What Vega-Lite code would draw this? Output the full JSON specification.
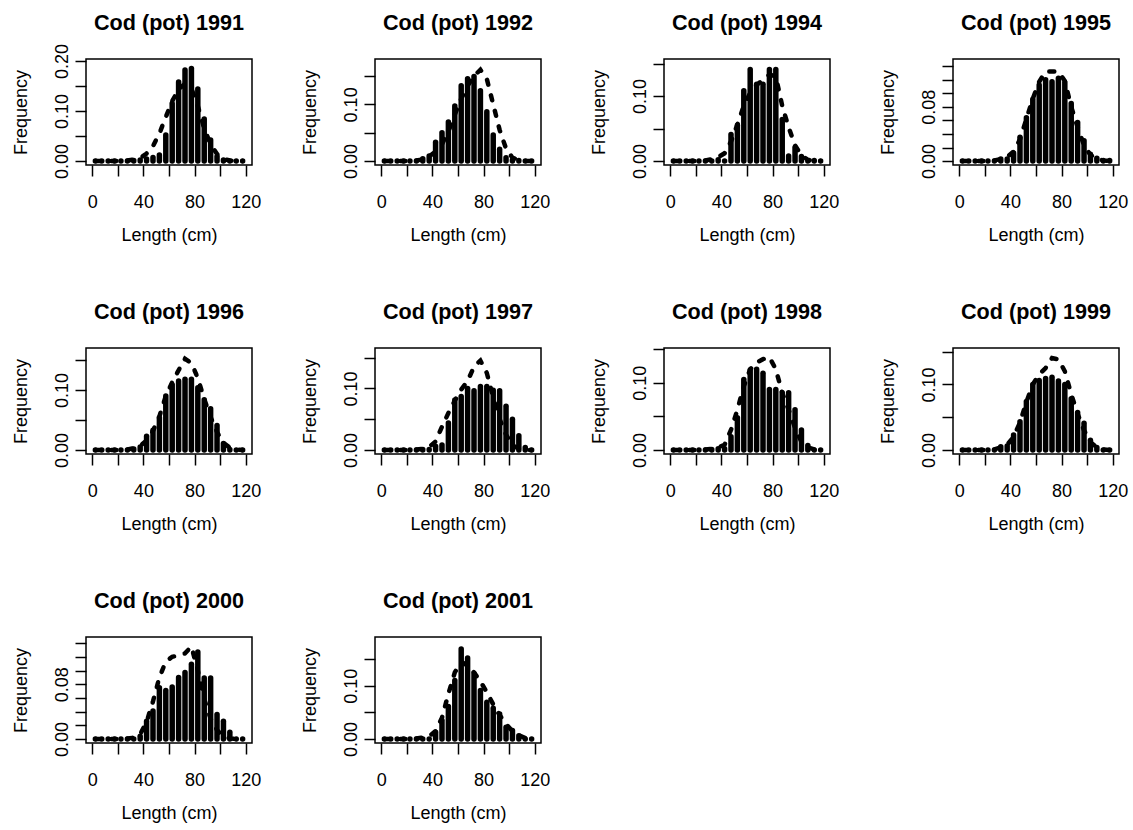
{
"$schema": "https://vega.github.io/schema/vega-lite/v6.json",
"background": "white",
"padding": {"left": 11, "top": 12, "right": 5, "bottom": 5},
"columns": 4,
"spacing": {"row": 183, "column": 123},
"bounds": "flush",
"datasets": {"cod": [
{"year":1991,"len":2.5,"obs":0,"fit":0},{"year":1991,"len":7.5,"obs":0,"fit":0},{"year":1991,"len":12.5,"obs":0,"fit":0},{"year":1991,"len":17.5,"obs":0,"fit":0},{"year":1991,"len":22.5,"obs":0,"fit":0.001},{"year":1991,"len":27.5,"obs":0,"fit":0.001},{"year":1991,"len":32.5,"obs":0.001,"fit":0.003},{"year":1991,"len":37.5,"obs":0.002,"fit":0.006},{"year":1991,"len":42.5,"obs":0.004,"fit":0.015},{"year":1991,"len":47.5,"obs":0.007,"fit":0.03},{"year":1991,"len":52.5,"obs":0.012,"fit":0.055},{"year":1991,"len":57.5,"obs":0.052,"fit":0.088},{"year":1991,"len":62.5,"obs":0.115,"fit":0.12},{"year":1991,"len":67.5,"obs":0.158,"fit":0.143},{"year":1991,"len":72.5,"obs":0.182,"fit":0.155},{"year":1991,"len":77.5,"obs":0.185,"fit":0.145},{"year":1991,"len":82.5,"obs":0.144,"fit":0.11},{"year":1991,"len":87.5,"obs":0.084,"fit":0.065},{"year":1991,"len":92.5,"obs":0.042,"fit":0.033},{"year":1991,"len":97.5,"obs":0.009,"fit":0.014},{"year":1991,"len":102.5,"obs":0.002,"fit":0.004},{"year":1991,"len":107.5,"obs":0,"fit":0.001},{"year":1991,"len":112.5,"obs":0,"fit":0},{"year":1991,"len":117.5,"obs":0,"fit":0},
{"year":1992,"len":2.5,"obs":0,"fit":0},{"year":1992,"len":7.5,"obs":0,"fit":0},{"year":1992,"len":12.5,"obs":0,"fit":0},{"year":1992,"len":17.5,"obs":0,"fit":0},{"year":1992,"len":22.5,"obs":0,"fit":0},{"year":1992,"len":27.5,"obs":0,"fit":0.001},{"year":1992,"len":32.5,"obs":0.004,"fit":0.003},{"year":1992,"len":37.5,"obs":0.009,"fit":0.008},{"year":1992,"len":42.5,"obs":0.033,"fit":0.017},{"year":1992,"len":47.5,"obs":0.05,"fit":0.03},{"year":1992,"len":52.5,"obs":0.069,"fit":0.052},{"year":1992,"len":57.5,"obs":0.097,"fit":0.082},{"year":1992,"len":62.5,"obs":0.133,"fit":0.11},{"year":1992,"len":67.5,"obs":0.145,"fit":0.133},{"year":1992,"len":72.5,"obs":0.149,"fit":0.15},{"year":1992,"len":77.5,"obs":0.124,"fit":0.161},{"year":1992,"len":82.5,"obs":0.087,"fit":0.145},{"year":1992,"len":87.5,"obs":0.046,"fit":0.1},{"year":1992,"len":92.5,"obs":0.021,"fit":0.055},{"year":1992,"len":97.5,"obs":0.006,"fit":0.022},{"year":1992,"len":102.5,"obs":0.002,"fit":0.006},{"year":1992,"len":107.5,"obs":0.001,"fit":0.002},{"year":1992,"len":112.5,"obs":0,"fit":0},{"year":1992,"len":117.5,"obs":0,"fit":0},
{"year":1994,"len":2.5,"obs":0,"fit":0},{"year":1994,"len":7.5,"obs":0,"fit":0},{"year":1994,"len":12.5,"obs":0,"fit":0},{"year":1994,"len":17.5,"obs":0,"fit":0},{"year":1994,"len":22.5,"obs":0,"fit":0},{"year":1994,"len":27.5,"obs":0,"fit":0.001},{"year":1994,"len":32.5,"obs":0,"fit":0.003},{"year":1994,"len":37.5,"obs":0.002,"fit":0.006},{"year":1994,"len":42.5,"obs":0,"fit":0.012},{"year":1994,"len":47.5,"obs":0.041,"fit":0.03},{"year":1994,"len":52.5,"obs":0.055,"fit":0.056},{"year":1994,"len":57.5,"obs":0.108,"fit":0.085},{"year":1994,"len":62.5,"obs":0.141,"fit":0.105},{"year":1994,"len":67.5,"obs":0.118,"fit":0.117},{"year":1994,"len":72.5,"obs":0.118,"fit":0.125},{"year":1994,"len":77.5,"obs":0.141,"fit":0.133},{"year":1994,"len":82.5,"obs":0.141,"fit":0.13},{"year":1994,"len":87.5,"obs":0.064,"fit":0.085},{"year":1994,"len":92.5,"obs":0.008,"fit":0.052},{"year":1994,"len":97.5,"obs":0.021,"fit":0.024},{"year":1994,"len":102.5,"obs":0.007,"fit":0.009},{"year":1994,"len":107.5,"obs":0,"fit":0.002},{"year":1994,"len":112.5,"obs":0.001,"fit":0},{"year":1994,"len":117.5,"obs":0,"fit":0},
{"year":1995,"len":2.5,"obs":0,"fit":0},{"year":1995,"len":7.5,"obs":0,"fit":0},{"year":1995,"len":12.5,"obs":0,"fit":0},{"year":1995,"len":17.5,"obs":0,"fit":0},{"year":1995,"len":22.5,"obs":0,"fit":0},{"year":1995,"len":27.5,"obs":0,"fit":0.001},{"year":1995,"len":32.5,"obs":0.003,"fit":0.003},{"year":1995,"len":37.5,"obs":0.003,"fit":0.006},{"year":1995,"len":42.5,"obs":0.012,"fit":0.014},{"year":1995,"len":47.5,"obs":0.035,"fit":0.032},{"year":1995,"len":52.5,"obs":0.064,"fit":0.062},{"year":1995,"len":57.5,"obs":0.091,"fit":0.092},{"year":1995,"len":62.5,"obs":0.112,"fit":0.117},{"year":1995,"len":67.5,"obs":0.12,"fit":0.132},{"year":1995,"len":72.5,"obs":0.117,"fit":0.132},{"year":1995,"len":77.5,"obs":0.122,"fit":0.132},{"year":1995,"len":82.5,"obs":0.116,"fit":0.118},{"year":1995,"len":87.5,"obs":0.085,"fit":0.08},{"year":1995,"len":92.5,"obs":0.057,"fit":0.05},{"year":1995,"len":97.5,"obs":0.03,"fit":0.023},{"year":1995,"len":102.5,"obs":0.01,"fit":0.009},{"year":1995,"len":107.5,"obs":0.004,"fit":0.003},{"year":1995,"len":112.5,"obs":0.001,"fit":0.001},{"year":1995,"len":117.5,"obs":0.001,"fit":0},
{"year":1996,"len":2.5,"obs":0,"fit":0},{"year":1996,"len":7.5,"obs":0,"fit":0},{"year":1996,"len":12.5,"obs":0,"fit":0},{"year":1996,"len":17.5,"obs":0,"fit":0},{"year":1996,"len":22.5,"obs":0,"fit":0},{"year":1996,"len":27.5,"obs":0,"fit":0.001},{"year":1996,"len":32.5,"obs":0.002,"fit":0.003},{"year":1996,"len":37.5,"obs":0.005,"fit":0.007},{"year":1996,"len":42.5,"obs":0.023,"fit":0.016},{"year":1996,"len":47.5,"obs":0.033,"fit":0.032},{"year":1996,"len":52.5,"obs":0.054,"fit":0.056},{"year":1996,"len":57.5,"obs":0.09,"fit":0.09},{"year":1996,"len":62.5,"obs":0.109,"fit":0.113},{"year":1996,"len":67.5,"obs":0.115,"fit":0.133},{"year":1996,"len":72.5,"obs":0.118,"fit":0.152},{"year":1996,"len":77.5,"obs":0.118,"fit":0.145},{"year":1996,"len":82.5,"obs":0.104,"fit":0.12},{"year":1996,"len":87.5,"obs":0.084,"fit":0.085},{"year":1996,"len":92.5,"obs":0.069,"fit":0.055},{"year":1996,"len":97.5,"obs":0.041,"fit":0.03},{"year":1996,"len":102.5,"obs":0.011,"fit":0.012},{"year":1996,"len":107.5,"obs":0.001,"fit":0.004},{"year":1996,"len":112.5,"obs":0,"fit":0.001},{"year":1996,"len":117.5,"obs":0,"fit":0},
{"year":1997,"len":2.5,"obs":0,"fit":0},{"year":1997,"len":7.5,"obs":0,"fit":0},{"year":1997,"len":12.5,"obs":0,"fit":0},{"year":1997,"len":17.5,"obs":0,"fit":0},{"year":1997,"len":22.5,"obs":0,"fit":0},{"year":1997,"len":27.5,"obs":0,"fit":0.001},{"year":1997,"len":32.5,"obs":0.001,"fit":0.002},{"year":1997,"len":37.5,"obs":0.001,"fit":0.005},{"year":1997,"len":42.5,"obs":0.006,"fit":0.014},{"year":1997,"len":47.5,"obs":0.008,"fit":0.038},{"year":1997,"len":52.5,"obs":0.044,"fit":0.06},{"year":1997,"len":57.5,"obs":0.081,"fit":0.08},{"year":1997,"len":62.5,"obs":0.087,"fit":0.098},{"year":1997,"len":67.5,"obs":0.1,"fit":0.112},{"year":1997,"len":72.5,"obs":0.096,"fit":0.135},{"year":1997,"len":77.5,"obs":0.103,"fit":0.145},{"year":1997,"len":82.5,"obs":0.103,"fit":0.125},{"year":1997,"len":87.5,"obs":0.097,"fit":0.085},{"year":1997,"len":92.5,"obs":0.096,"fit":0.05},{"year":1997,"len":97.5,"obs":0.071,"fit":0.025},{"year":1997,"len":102.5,"obs":0.05,"fit":0.008},{"year":1997,"len":107.5,"obs":0.023,"fit":0.002},{"year":1997,"len":112.5,"obs":0.004,"fit":0},{"year":1997,"len":117.5,"obs":0,"fit":0},
{"year":1998,"len":2.5,"obs":0,"fit":0},{"year":1998,"len":7.5,"obs":0,"fit":0},{"year":1998,"len":12.5,"obs":0,"fit":0},{"year":1998,"len":17.5,"obs":0,"fit":0},{"year":1998,"len":22.5,"obs":0,"fit":0},{"year":1998,"len":27.5,"obs":0,"fit":0.001},{"year":1998,"len":32.5,"obs":0.001,"fit":0.002},{"year":1998,"len":37.5,"obs":0.002,"fit":0.004},{"year":1998,"len":42.5,"obs":0.002,"fit":0.008},{"year":1998,"len":47.5,"obs":0.02,"fit":0.03},{"year":1998,"len":52.5,"obs":0.048,"fit":0.06},{"year":1998,"len":57.5,"obs":0.105,"fit":0.095},{"year":1998,"len":62.5,"obs":0.119,"fit":0.12},{"year":1998,"len":67.5,"obs":0.12,"fit":0.13},{"year":1998,"len":72.5,"obs":0.114,"fit":0.135},{"year":1998,"len":77.5,"obs":0.09,"fit":0.138},{"year":1998,"len":82.5,"obs":0.09,"fit":0.12},{"year":1998,"len":87.5,"obs":0.085,"fit":0.085},{"year":1998,"len":92.5,"obs":0.085,"fit":0.06},{"year":1998,"len":97.5,"obs":0.06,"fit":0.033},{"year":1998,"len":102.5,"obs":0.03,"fit":0.012},{"year":1998,"len":107.5,"obs":0.007,"fit":0.004},{"year":1998,"len":112.5,"obs":0,"fit":0.001},{"year":1998,"len":117.5,"obs":0,"fit":0},
{"year":1999,"len":2.5,"obs":0,"fit":0},{"year":1999,"len":7.5,"obs":0,"fit":0},{"year":1999,"len":12.5,"obs":0,"fit":0},{"year":1999,"len":17.5,"obs":0,"fit":0},{"year":1999,"len":22.5,"obs":0,"fit":0},{"year":1999,"len":27.5,"obs":0,"fit":0.001},{"year":1999,"len":32.5,"obs":0.005,"fit":0.004},{"year":1999,"len":37.5,"obs":0.006,"fit":0.008},{"year":1999,"len":42.5,"obs":0.023,"fit":0.02},{"year":1999,"len":47.5,"obs":0.043,"fit":0.042},{"year":1999,"len":52.5,"obs":0.074,"fit":0.073},{"year":1999,"len":57.5,"obs":0.1,"fit":0.1},{"year":1999,"len":62.5,"obs":0.106,"fit":0.115},{"year":1999,"len":67.5,"obs":0.109,"fit":0.125},{"year":1999,"len":72.5,"obs":0.111,"fit":0.14},{"year":1999,"len":77.5,"obs":0.105,"fit":0.138},{"year":1999,"len":82.5,"obs":0.1,"fit":0.12},{"year":1999,"len":87.5,"obs":0.078,"fit":0.085},{"year":1999,"len":92.5,"obs":0.057,"fit":0.055},{"year":1999,"len":97.5,"obs":0.041,"fit":0.03},{"year":1999,"len":102.5,"obs":0.015,"fit":0.012},{"year":1999,"len":107.5,"obs":0.004,"fit":0.004},{"year":1999,"len":112.5,"obs":0,"fit":0.001},{"year":1999,"len":117.5,"obs":0,"fit":0},
{"year":2000,"len":2.5,"obs":0,"fit":0},{"year":2000,"len":7.5,"obs":0,"fit":0},{"year":2000,"len":12.5,"obs":0,"fit":0},{"year":2000,"len":17.5,"obs":0,"fit":0},{"year":2000,"len":22.5,"obs":0,"fit":0},{"year":2000,"len":27.5,"obs":0,"fit":0.001},{"year":2000,"len":32.5,"obs":0,"fit":0.002},{"year":2000,"len":37.5,"obs":0.004,"fit":0.007},{"year":2000,"len":42.5,"obs":0.026,"fit":0.025},{"year":2000,"len":47.5,"obs":0.041,"fit":0.055},{"year":2000,"len":52.5,"obs":0.075,"fit":0.09},{"year":2000,"len":57.5,"obs":0.071,"fit":0.113},{"year":2000,"len":62.5,"obs":0.076,"fit":0.12},{"year":2000,"len":67.5,"obs":0.09,"fit":0.122},{"year":2000,"len":72.5,"obs":0.097,"fit":0.125},{"year":2000,"len":77.5,"obs":0.109,"fit":0.135},{"year":2000,"len":82.5,"obs":0.127,"fit":0.1},{"year":2000,"len":87.5,"obs":0.089,"fit":0.058},{"year":2000,"len":92.5,"obs":0.089,"fit":0.03},{"year":2000,"len":97.5,"obs":0.036,"fit":0.013},{"year":2000,"len":102.5,"obs":0.026,"fit":0.004},{"year":2000,"len":107.5,"obs":0.01,"fit":0.001},{"year":2000,"len":112.5,"obs":0,"fit":0},{"year":2000,"len":117.5,"obs":0,"fit":0},
{"year":2001,"len":2.5,"obs":0,"fit":0},{"year":2001,"len":7.5,"obs":0,"fit":0},{"year":2001,"len":12.5,"obs":0,"fit":0},{"year":2001,"len":17.5,"obs":0,"fit":0},{"year":2001,"len":22.5,"obs":0,"fit":0},{"year":2001,"len":27.5,"obs":0,"fit":0.001},{"year":2001,"len":32.5,"obs":0,"fit":0.003},{"year":2001,"len":37.5,"obs":0,"fit":0.005},{"year":2001,"len":42.5,"obs":0.013,"fit":0.015},{"year":2001,"len":47.5,"obs":0.035,"fit":0.04},{"year":2001,"len":52.5,"obs":0.061,"fit":0.085},{"year":2001,"len":57.5,"obs":0.11,"fit":0.125},{"year":2001,"len":62.5,"obs":0.169,"fit":0.145},{"year":2001,"len":67.5,"obs":0.152,"fit":0.138},{"year":2001,"len":72.5,"obs":0.123,"fit":0.125},{"year":2001,"len":77.5,"obs":0.091,"fit":0.108},{"year":2001,"len":82.5,"obs":0.069,"fit":0.088},{"year":2001,"len":87.5,"obs":0.058,"fit":0.065},{"year":2001,"len":92.5,"obs":0.047,"fit":0.045},{"year":2001,"len":97.5,"obs":0.022,"fit":0.028},{"year":2001,"len":102.5,"obs":0.016,"fit":0.015},{"year":2001,"len":107.5,"obs":0.006,"fit":0.007},{"year":2001,"len":112.5,"obs":0,"fit":0.002},{"year":2001,"len":117.5,"obs":0,"fit":0.001}
]},
"data": {"name": "cod"},
"concat": [
{"title":{"text":"Cod (pot) 1991","offset":8.5},"width":166,"height":106,"transform":[{"filter":"datum.year===1991"}],
 "encoding":{"x":{"field":"len","type":"quantitative","scale":{"domain":[-4.8,124.8],"nice":false,"zero":false},"axis":{"values":[0,20,40,60,80,100,120],"labelExpr":"datum.value % 40 === 0 ? datum.label : ''","title":"Length (cm)"}}},
 "layer":[
  {"mark":{"type":"rule","strokeWidth":5.5,"strokeCap":"round","color":"black"},"encoding":{"y":{"field":"obs","type":"quantitative","scale":{"domain":[-0.0079,0.2041],"nice":false,"zero":false},"axis":{"values":[0,0.05,0.1,0.15,0.2],"labelExpr":"indexof(['0.00','0.10','0.20'], format(datum.value,'.2f')) >= 0 ? format(datum.value,'.2f') : ''","title":"Frequency"}},"y2":{"datum":0}}},
  {"mark":{"type":"line","strokeWidth":4.5,"strokeDash":[5,11],"strokeCap":"round","color":"black"},"encoding":{"y":{"field":"fit","type":"quantitative","axis":{"title":"Frequency"}}}}
 ]},
{"title":"Cod (pot) 1992","width":166,"height":106,"transform":[{"filter":"datum.year===1992"}],
 "encoding":{"x":{"field":"len","type":"quantitative","scale":{"domain":[-4.8,124.8],"nice":false,"zero":false},"axis":{"values":[0,20,40,60,80,100,120],"labelExpr":"datum.value % 40 === 0 ? datum.label : ''","title":"Length (cm)"}}},
 "layer":[
  {"mark":{"type":"rule","strokeWidth":5.5,"strokeCap":"round","color":"black"},"encoding":{"y":{"field":"obs","type":"quantitative","scale":{"domain":[-0.0069,0.18],"nice":false,"zero":false},"axis":{"values":[0,0.05,0.1,0.15],"labelExpr":"indexof(['0.00','0.10'], format(datum.value,'.2f')) >= 0 ? format(datum.value,'.2f') : ''","title":"Frequency"}},"y2":{"datum":0}}},
  {"mark":{"type":"line","strokeWidth":4.5,"strokeDash":[5,11],"strokeCap":"round","color":"black"},"encoding":{"y":{"field":"fit","type":"quantitative","axis":{"title":"Frequency"}}}}
 ]},
{"title":"Cod (pot) 1994","width":166,"height":106,"transform":[{"filter":"datum.year===1994"}],
 "encoding":{"x":{"field":"len","type":"quantitative","scale":{"domain":[-4.8,124.8],"nice":false,"zero":false},"axis":{"values":[0,20,40,60,80,100,120],"labelExpr":"datum.value % 40 === 0 ? datum.label : ''","title":"Length (cm)"}}},
 "layer":[
  {"mark":{"type":"rule","strokeWidth":5.5,"strokeCap":"round","color":"black"},"encoding":{"y":{"field":"obs","type":"quantitative","scale":{"domain":[-0.006,0.157],"nice":false,"zero":false},"axis":{"values":[0,0.05,0.1,0.15],"labelExpr":"indexof(['0.00','0.10'], format(datum.value,'.2f')) >= 0 ? format(datum.value,'.2f') : ''","title":"Frequency"}},"y2":{"datum":0}}},
  {"mark":{"type":"line","strokeWidth":4.5,"strokeDash":[5,11],"strokeCap":"round","color":"black"},"encoding":{"y":{"field":"fit","type":"quantitative","axis":{"title":"Frequency"}}}}
 ]},
{"title":"Cod (pot) 1995","width":166,"height":106,"transform":[{"filter":"datum.year===1995"}],
 "encoding":{"x":{"field":"len","type":"quantitative","scale":{"domain":[-4.8,124.8],"nice":false,"zero":false},"axis":{"values":[0,20,40,60,80,100,120],"labelExpr":"datum.value % 40 === 0 ? datum.label : ''","title":"Length (cm)"}}},
 "layer":[
  {"mark":{"type":"rule","strokeWidth":5.5,"strokeCap":"round","color":"black"},"encoding":{"y":{"field":"obs","type":"quantitative","scale":{"domain":[-0.0058,0.1505],"nice":false,"zero":false},"axis":{"values":[0,0.02,0.04,0.06,0.08,0.1,0.12,0.14],"labelExpr":"indexof(['0.00','0.08'], format(datum.value,'.2f')) >= 0 ? format(datum.value,'.2f') : ''","title":"Frequency"}},"y2":{"datum":0}}},
  {"mark":{"type":"line","strokeWidth":4.5,"strokeDash":[5,11],"strokeCap":"round","color":"black"},"encoding":{"y":{"field":"fit","type":"quantitative","axis":{"title":"Frequency"}}}}
 ]},
{"title":"Cod (pot) 1996","width":166,"height":106,"transform":[{"filter":"datum.year===1996"}],
 "encoding":{"x":{"field":"len","type":"quantitative","scale":{"domain":[-4.8,124.8],"nice":false,"zero":false},"axis":{"values":[0,20,40,60,80,100,120],"labelExpr":"datum.value % 40 === 0 ? datum.label : ''","title":"Length (cm)"}}},
 "layer":[
  {"mark":{"type":"rule","strokeWidth":5.5,"strokeCap":"round","color":"black"},"encoding":{"y":{"field":"obs","type":"quantitative","scale":{"domain":[-0.0065,0.17],"nice":false,"zero":false},"axis":{"values":[0,0.05,0.1,0.15],"labelExpr":"indexof(['0.00','0.10'], format(datum.value,'.2f')) >= 0 ? format(datum.value,'.2f') : ''","title":"Frequency"}},"y2":{"datum":0}}},
  {"mark":{"type":"line","strokeWidth":4.5,"strokeDash":[5,11],"strokeCap":"round","color":"black"},"encoding":{"y":{"field":"fit","type":"quantitative","axis":{"title":"Frequency"}}}}
 ]},
{"title":"Cod (pot) 1997","width":166,"height":106,"transform":[{"filter":"datum.year===1997"}],
 "encoding":{"x":{"field":"len","type":"quantitative","scale":{"domain":[-4.8,124.8],"nice":false,"zero":false},"axis":{"values":[0,20,40,60,80,100,120],"labelExpr":"datum.value % 40 === 0 ? datum.label : ''","title":"Length (cm)"}}},
 "layer":[
  {"mark":{"type":"rule","strokeWidth":5.5,"strokeCap":"round","color":"black"},"encoding":{"y":{"field":"obs","type":"quantitative","scale":{"domain":[-0.0064,0.1655],"nice":false,"zero":false},"axis":{"values":[0,0.05,0.1,0.15],"labelExpr":"indexof(['0.00','0.10'], format(datum.value,'.2f')) >= 0 ? format(datum.value,'.2f') : ''","title":"Frequency"}},"y2":{"datum":0}}},
  {"mark":{"type":"line","strokeWidth":4.5,"strokeDash":[5,11],"strokeCap":"round","color":"black"},"encoding":{"y":{"field":"fit","type":"quantitative","axis":{"title":"Frequency"}}}}
 ]},
{"title":"Cod (pot) 1998","width":166,"height":106,"transform":[{"filter":"datum.year===1998"}],
 "encoding":{"x":{"field":"len","type":"quantitative","scale":{"domain":[-4.8,124.8],"nice":false,"zero":false},"axis":{"values":[0,20,40,60,80,100,120],"labelExpr":"datum.value % 40 === 0 ? datum.label : ''","title":"Length (cm)"}}},
 "layer":[
  {"mark":{"type":"rule","strokeWidth":5.5,"strokeCap":"round","color":"black"},"encoding":{"y":{"field":"obs","type":"quantitative","scale":{"domain":[-0.0058,0.1516],"nice":false,"zero":false},"axis":{"values":[0,0.05,0.1,0.15],"labelExpr":"indexof(['0.00','0.10'], format(datum.value,'.2f')) >= 0 ? format(datum.value,'.2f') : ''","title":"Frequency"}},"y2":{"datum":0}}},
  {"mark":{"type":"line","strokeWidth":4.5,"strokeDash":[5,11],"strokeCap":"round","color":"black"},"encoding":{"y":{"field":"fit","type":"quantitative","axis":{"title":"Frequency"}}}}
 ]},
{"title":"Cod (pot) 1999","width":166,"height":106,"transform":[{"filter":"datum.year===1999"}],
 "encoding":{"x":{"field":"len","type":"quantitative","scale":{"domain":[-4.8,124.8],"nice":false,"zero":false},"axis":{"values":[0,20,40,60,80,100,120],"labelExpr":"datum.value % 40 === 0 ? datum.label : ''","title":"Length (cm)"}}},
 "layer":[
  {"mark":{"type":"rule","strokeWidth":5.5,"strokeCap":"round","color":"black"},"encoding":{"y":{"field":"obs","type":"quantitative","scale":{"domain":[-0.006,0.1554],"nice":false,"zero":false},"axis":{"values":[0,0.05,0.1,0.15],"labelExpr":"indexof(['0.00','0.10'], format(datum.value,'.2f')) >= 0 ? format(datum.value,'.2f') : ''","title":"Frequency"}},"y2":{"datum":0}}},
  {"mark":{"type":"line","strokeWidth":4.5,"strokeDash":[5,11],"strokeCap":"round","color":"black"},"encoding":{"y":{"field":"fit","type":"quantitative","axis":{"title":"Frequency"}}}}
 ]},
{"title":"Cod (pot) 2000","width":166,"height":106,"transform":[{"filter":"datum.year===2000"}],
 "encoding":{"x":{"field":"len","type":"quantitative","scale":{"domain":[-4.8,124.8],"nice":false,"zero":false},"axis":{"values":[0,20,40,60,80,100,120],"labelExpr":"datum.value % 40 === 0 ? datum.label : ''","title":"Length (cm)"}}},
 "layer":[
  {"mark":{"type":"rule","strokeWidth":5.5,"strokeCap":"round","color":"black"},"encoding":{"y":{"field":"obs","type":"quantitative","scale":{"domain":[-0.0057,0.1489],"nice":false,"zero":false},"axis":{"values":[0,0.02,0.04,0.06,0.08,0.1,0.12,0.14],"labelExpr":"indexof(['0.00','0.08'], format(datum.value,'.2f')) >= 0 ? format(datum.value,'.2f') : ''","title":"Frequency"}},"y2":{"datum":0}}},
  {"mark":{"type":"line","strokeWidth":4.5,"strokeDash":[5,11],"strokeCap":"round","color":"black"},"encoding":{"y":{"field":"fit","type":"quantitative","axis":{"title":"Frequency"}}}}
 ]},
{"title":"Cod (pot) 2001","width":166,"height":106,"transform":[{"filter":"datum.year===2001"}],
 "encoding":{"x":{"field":"len","type":"quantitative","scale":{"domain":[-4.8,124.8],"nice":false,"zero":false},"axis":{"values":[0,20,40,60,80,100,120],"labelExpr":"datum.value % 40 === 0 ? datum.label : ''","title":"Length (cm)"}}},
 "layer":[
  {"mark":{"type":"rule","strokeWidth":5.5,"strokeCap":"round","color":"black"},"encoding":{"y":{"field":"obs","type":"quantitative","scale":{"domain":[-0.0074,0.1915],"nice":false,"zero":false},"axis":{"values":[0,0.05,0.1,0.15],"labelExpr":"indexof(['0.00','0.10'], format(datum.value,'.2f')) >= 0 ? format(datum.value,'.2f') : ''","title":"Frequency"}},"y2":{"datum":0}}},
  {"mark":{"type":"line","strokeWidth":4.5,"strokeDash":[5,11],"strokeCap":"round","color":"black"},"encoding":{"y":{"field":"fit","type":"quantitative","axis":{"title":"Frequency"}}}}
 ]}
],
"config": {
 "font": "Liberation Sans",
 "view": {"stroke": "black", "strokeWidth": 1.5},
 "axis": {"domain": false, "grid": false, "tickCount": 50, "tickColor": "black", "tickWidth": 1.5, "tickSize": 11, "labelColor": "black", "labelFont": "Liberation Sans", "labelFontSize": 18, "titleFont": "Liberation Sans", "titleFontSize": 18, "titleFontWeight": "normal", "titleColor": "black", "labelOverlap": false, "labelFlush": false, "labelBound": false},
 "axisX": {"labelPadding": 31, "labelBaseline": "alphabetic", "labelAngle": 0, "titleY": 75, "titleBaseline": "alphabetic"},
 "axisY": {"labelAngle": 270, "labelAlign": "center", "labelBaseline": "alphabetic", "labelPadding": 7.5, "titleX": -60, "titleBaseline": "alphabetic", "titleAngle": 270},
 "title": {"font": "Liberation Sans", "fontSize": 21.6, "fontWeight": "bold", "color": "black", "anchor": "middle", "frame": "group", "baseline": "alphabetic", "offset": 24}
}
}
